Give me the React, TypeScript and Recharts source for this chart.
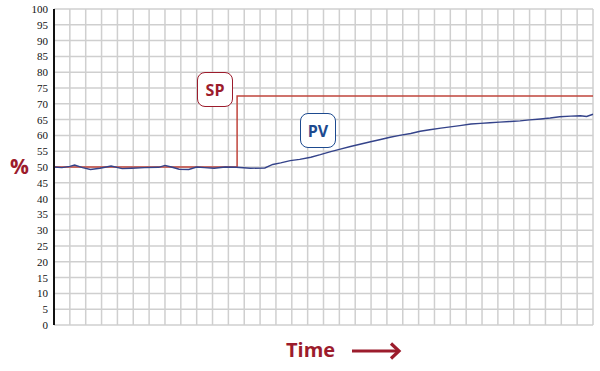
import React from "react";
import { LineChart, Line, XAxis, YAxis, CartesianGrid } from "recharts";

// time axis in grid columns (34 columns across the plot)
const xTicks = [
  0, 1, 2, 3, 4, 5, 6, 7, 8, 9, 10, 11, 12, 13, 14, 15, 16, 17, 18, 19, 20,
  21, 22, 23, 24, 25, 26, 27, 28, 29, 30, 31, 32, 33, 34,
];
const yTicks = [
  0, 5, 10, 15, 20, 25, 30, 35, 40, 45, 50, 55, 60, 65, 70, 75, 80, 85, 90, 95,
  100,
];

// set point: step from 50 to 72.5
const spTime = [0, 11.55, 11.55, 34];
const spValue = [50, 50, 72.5, 72.5];

// process variable
const pvTime = [
  0, 0.5, 1.0, 1.3, 1.8, 2.3, 2.9, 3.6, 4.3, 4.9, 5.7, 6.6, 7.0, 7.4, 7.9, 8.5,
  9.0, 9.5, 10.1, 10.8, 11.5, 12.4, 13.3, 13.8, 14.3, 14.9, 15.5, 16.2, 16.8,
  17.4, 18.0, 18.7, 19.3, 19.9, 20.6, 21.2, 21.8, 22.5, 23.1, 23.7, 24.4, 25.0,
  25.6, 26.3, 26.9, 27.5, 28.1, 28.8, 29.4, 30.0, 30.7, 31.3, 31.9, 32.6, 33.2,
  33.6, 34.0,
];
const pvValue = [
  50.0, 49.8, 50.2, 50.6, 49.8, 49.2, 49.6, 50.3, 49.5, 49.6, 49.8, 49.9, 50.5,
  50.0, 49.3, 49.2, 50.0, 49.8, 49.6, 50.0, 49.9, 49.6, 49.7, 50.8, 51.3, 52.0,
  52.4, 53.1, 53.9, 54.8, 55.6, 56.5, 57.2, 57.9, 58.7, 59.4, 60.0, 60.6, 61.3,
  61.8, 62.3, 62.7, 63.1, 63.6, 63.8, 64.0, 64.2, 64.4, 64.6, 64.9, 65.2, 65.5,
  65.9, 66.1, 66.2, 66.0, 66.7,
];

const spData = spTime.map((t, i) => ({ t, v: spValue[i] }));
const pvData = pvTime.map((t, i) => ({ t, v: pvValue[i] }));

const RED = "#9c1c2c";
const BLUE = "#1d4a8f";
const labelFont = "'Open Sans', 'DejaVu Sans', sans-serif";

function Tag({ text, color, left, top }: { text: string; color: string; left: number; top: number }) {
  return (
    <div
      style={{
        position: "absolute",
        left,
        top,
        width: 36,
        height: 35,
        boxSizing: "border-box",
        border: `1.2px solid ${color}`,
        borderRadius: 8,
        background: "#fff",
        color,
        fontFamily: labelFont,
        fontWeight: 700,
        fontSize: 16,
        display: "flex",
        alignItems: "center",
        justifyContent: "center",
      }}
    >
      {text}
    </div>
  );
}

function YTick(props: any) {
  const { x, y, payload } = props;
  return (
    <text
      x={x}
      y={y}
      dy={4}
      textAnchor="end"
      fill="#111"
      style={{ fontSize: 11, fontFamily: "'Liberation Serif', 'DejaVu Serif', serif" }}
    >
      {payload.value}
    </text>
  );
}

export default function App() {
  return (
    <div style={{ position: "absolute", left: 0, top: 0, width: 600, height: 371, background: "#fff" }}>
      <LineChart width={600} height={371} margin={{ top: 9, right: 7, bottom: 46, left: 0 }}>
        <CartesianGrid stroke="#cfcfcf" strokeWidth={1.5} />
        <XAxis
          type="number"
          dataKey="t"
          domain={[0, 34]}
          ticks={xTicks}
          interval={0}
          tick={() => <g />}
          tickLine={false}
          height={0}
          axisLine={{ stroke: "#111", strokeWidth: 2 }}
        />
        <YAxis
          type="number"
          domain={[0, 100]}
          ticks={yTicks}
          width={54}
          interval={0}
          tickLine={false}
          tickSize={4}
          tickMargin={2}
          axisLine={{ stroke: "#111", strokeWidth: 2 }}
          tick={<YTick />}
        />
        <Line
          data={spData}
          dataKey="v"
          type="linear"
          stroke="#c0453c"
          strokeWidth={1.5}
          dot={false}
          isAnimationActive={false}
        />
        <Line
          data={pvData}
          dataKey="v"
          type="linear"
          stroke="#34438a"
          strokeWidth={1.4}
          dot={false}
          isAnimationActive={false}
        />
      </LineChart>
      <Tag text="SP" color={RED} left={197} top={72} />
      <Tag text="PV" color={BLUE} left={300} top={113} />
      <div
        style={{
          position: "absolute",
          left: 10,
          top: 152,
          color: RED,
          fontFamily: labelFont,
          fontWeight: 700,
          fontSize: 21,
        }}
      >
        %
      </div>
      <div
        style={{
          position: "absolute",
          left: 286,
          top: 336,
          color: RED,
          fontFamily: labelFont,
          fontWeight: 700,
          fontSize: 20,
        }}
      >
        Time
      </div>
      <svg style={{ position: "absolute", left: 350, top: 340 }} width={54} height={22}>
        <line x1={2} y1={11} x2={49} y2={11} stroke={RED} strokeWidth={3.2} />
        <polyline points="41,3.5 49,11 41,18.5" fill="none" stroke={RED} strokeWidth={3.2} strokeLinejoin="miter" />
      </svg>
    </div>
  );
}
